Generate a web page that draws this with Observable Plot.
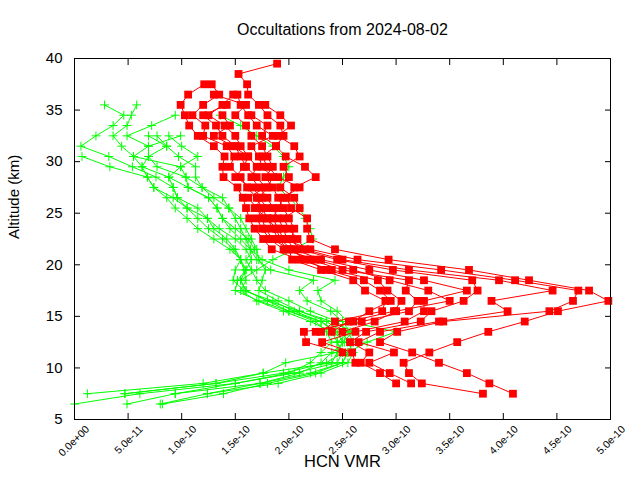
<!DOCTYPE html>
<html>
<head>
<meta charset="utf-8">
<script src="https://cdn.jsdelivr.net/npm/d3@7"></script>
<script src="https://cdn.jsdelivr.net/npm/@observablehq/plot@0.6"></script>
<style>
  html, body { margin: 0; padding: 0; background: #fff; }
  #chart { width: 640px; height: 480px; }
</style>
</head>
<body>
<div id="chart"></div>
<script>
// ---- Data (HCN VMR values in units of 1e-10) ----
const titleText = "Occultations from 2024-08-02";
const xLabel = "HCN VMR";
const yLabel = "Altitude (km)";

const xTicks = [0, 0.5, 1, 1.5, 2, 2.5, 3, 3.5, 4, 4.5, 5];
const xTickLabels = ["0.0e+00","5.0e-11","1.0e-10","1.5e-10","2.0e-10","2.5e-10","3.0e-10","3.5e-10","4.0e-10","4.5e-10","5.0e-10"];
const yTicks = [5, 10, 15, 20, 25, 30, 35, 40];

// red profiles: altitudes 39.5 .. 7.5 km
const redAltitudes = [39.5,38.5,37.5,36.5,35.5,34.5,33.5,32.5,31.5,30.5,29.5,28.5,27.5,26.5,25.5,24.5,23.5,22.5,21.5,20.5,19.5,18.5,17.5,16.5,15.5,14.5,13.5,12.5,11.5,10.5,9.5,8.5,7.5];
const redA = [1.89,1.53,1.61,1.62,1.72,1.80,1.92,1.95,1.88,1.97,2.15,2.25,2.05,1.98,2.02,2.17,2.17,2.20,2.43,2.93,3.68,4.24,4.80,4.98,4.51,4.20,3.86,3.57,3.31,3.07,3.12,3.24,3.81];
const redB = [null,null,1.21,1.06,0.99,1.03,1.07,1.15,1.30,1.40,1.38,1.39,1.52,1.57,1.60,1.63,1.68,1.76,1.84,2.10,2.40,2.83,2.92,3.05,2.98,2.56,2.40,null,null,null,null,null,null];
const redC = [null,null,1.28,1.35,1.20,1.10,1.22,1.20,1.42,1.49,1.45,1.55,1.61,1.70,1.75,1.80,1.85,1.90,1.99,2.20,2.50,3.12,3.09,3.20,3.12,2.68,2.14,2.16,2.50,null,null,null,null];
const redD = [null,null,null,1.48,1.38,1.25,1.40,1.50,1.55,1.62,1.70,1.65,1.72,1.80,1.85,1.90,1.95,1.98,2.05,2.30,2.75,3.26,3.66,3.26,3.26,3.08,2.62,2.31,2.59,2.62,null,null,null];
const redE = [null,null,null,1.30,1.60,1.50,1.60,1.65,1.75,1.80,1.85,1.78,1.85,1.90,1.95,2.00,2.05,2.02,2.10,2.45,2.97,3.71,3.76,3.63,3.33,3.23,2.72,2.57,2.75,2.67,2.85,3.00,null];
const redF = [null,null,null,null,1.78,1.92,2.02,1.90,2.05,2.10,1.95,2.00,1.92,2.05,2.10,1.95,2.00,2.08,2.15,2.50,3.12,3.96,4.46,3.89,4.04,3.40,2.85,2.65,2.98,2.75,2.94,3.14,null];
const redG = [null,null,null,null,1.42,1.20,1.32,1.38,1.50,1.55,1.60,1.70,1.78,1.62,1.70,1.75,1.78,1.85,2.00,2.03,2.30,2.60,2.71,2.90,2.87,2.43,2.30,null,null,null,null,null,null];
const redH = [null,null,null,null,null,1.65,1.80,1.75,1.88,1.75,1.80,1.90,2.10,1.95,1.90,1.85,1.90,1.95,2.20,2.64,3.42,4.11,4.70,4.65,4.43,3.44,3.01,2.85,3.15,3.40,3.66,3.87,4.09];
const redI = [null,null,null,1.52,1.55,1.62,1.70,1.85,1.65,1.72,1.75,1.85,1.80,1.72,1.80,1.70,1.75,1.82,1.95,2.25,2.60,2.94,3.30,3.50,3.00,2.80,2.50,null,null,null,null,null,null];
const redJ = [null,null,null,null,null,1.38,1.45,1.30,1.48,1.62,1.58,1.50,1.65,1.75,1.68,1.80,1.88,1.92,2.02,2.15,2.35,2.70,2.85,2.95,2.75,2.60,2.25,null,null,null,null,null,null];

// green profiles: altitudes 35.5 .. 6.5 km
const greenAltitudes = [35.5,34.5,33.5,32.5,31.5,30.5,29.5,28.5,27.5,26.5,25.5,24.5,23.5,22.5,21.5,20.5,19.5,18.5,17.5,16.5,15.5,14.5,13.5,12.5,11.5,10.5,9.5,8.5,7.5,6.5];
const green1 = [0.28,0.46,0.36,0.20,0.06,0.32,0.54,0.76,0.92,0.96,1.05,1.24,1.35,1.50,1.60,1.65,1.60,1.55,1.60,1.80,2.00,2.30,2.45,2.50,2.45,2.40,1.76,1.20,0.12,null];
const green2 = [0.58,0.53,0.49,0.36,0.44,0.55,0.63,0.88,1.06,1.25,1.33,1.38,1.45,1.55,1.64,1.70,1.83,2.23,2.10,2.17,2.39,2.50,2.57,2.45,2.50,2.45,2.05,1.50,0.61,0.00];
const green3 = [null,0.94,0.72,0.49,0.69,0.69,0.77,1.04,1.19,1.30,1.44,1.50,1.55,1.60,1.64,1.75,2.00,2.43,2.27,2.30,2.45,2.55,3.00,2.73,2.55,2.50,2.20,1.73,0.94,0.49];
const green4 = [null,null,null,0.69,0.86,0.97,1.13,1.13,1.19,1.38,1.44,1.55,1.60,1.65,1.70,1.72,1.78,1.75,1.72,1.90,2.10,2.35,2.50,2.55,2.60,2.55,2.30,1.90,1.24,0.80];
const green5 = [null,null,null,0.88,1.00,1.15,0.99,1.04,1.06,1.25,1.33,1.38,1.50,1.62,1.68,1.60,1.65,1.70,1.78,2.00,2.20,2.45,2.55,2.60,2.55,2.50,2.25,1.80,1.39,0.82];
const green6 = [null,null,null,null,null,0.07,0.33,0.68,0.74,0.86,0.94,1.05,1.15,1.30,1.45,1.55,1.58,1.60,1.55,1.70,1.95,2.20,2.40,2.45,2.50,2.35,1.95,1.32,0.47,null];
const green7 = [null,null,null,0.99,0.69,0.55,0.99,0.88,0.92,0.96,1.15,1.24,1.30,1.42,1.50,1.55,1.60,1.52,1.50,1.72,2.00,2.25,2.35,2.40,2.30,2.20,2.00,1.50,0.94,null];
const green8 = [null,1.36,1.55,1.70,1.85,1.95,2.00,1.95,1.90,2.00,2.10,2.15,2.20,2.22,2.05,1.85,1.70,1.55,1.60,1.80,2.10,2.40,2.60,2.50,2.45,1.97,1.76,1.32,0.47,null];
const green9 = [null,null,null,0.77,0.86,0.69,0.63,0.68,0.74,0.92,1.05,1.15,1.25,1.38,1.48,1.55,1.50,1.48,1.58,1.85,2.05,2.30,2.42,2.52,2.40,2.30,2.10,1.73,1.24,null];

const redProfiles = [redA, redB, redC, redD, redE, redF, redG, redH, redI, redJ];
const greenProfiles = [green1, green2, green3, green4, green5, green6, green7, green8, green9];

function toRows(profiles, alts) {
  return profiles.flatMap((p, i) => p.map((v, j) => ({id: i, alt: alts[j], v})).filter(d => d.v != null));
}
const redRows = toRows(redProfiles, redAltitudes);
const greenRows = toRows(greenProfiles, greenAltitudes);

const plusSymbol = {
  draw(ctx, size) {
    const h = Math.sqrt(size) * 0.62;
    ctx.moveTo(-h, 0); ctx.lineTo(h, 0);
    ctx.moveTo(0, -h); ctx.lineTo(0, h);
  }
};

const GREEN = "#00ff00", RED = "#ff0000";
const font = "'Liberation Sans', Arial, sans-serif";

const chart = Plot.plot({
  width: 640,
  height: 480,
  marginTop: 58,
  marginBottom: 61,
  marginLeft: 74,
  marginRight: 30,
  style: {fontFamily: font, fontSize: "15px", background: "#fff", color: "#000"},
  x: {domain: [0, 5]},
  y: {domain: [5, 40]},
  marks: [
    Plot.line(greenRows, {x: "v", y: "alt", z: "id", stroke: GREEN, strokeWidth: 1}),
    Plot.dot(greenRows, {x: "v", y: "alt", symbol: plusSymbol, r: 4, stroke: GREEN, fill: "none", strokeWidth: 1}),
    Plot.line(redRows, {x: "v", y: "alt", z: "id", stroke: RED, strokeWidth: 1}),
    Plot.dot(redRows, {x: "v", y: "alt", symbol: "square", r: 4.4, fill: RED, stroke: "none"}),
    Plot.frame({stroke: "#000", strokeWidth: 1}),
    Plot.axisY({ticks: yTicks, tickSize: -6, tickPadding: 18, label: null, fontSize: 15}),
    Plot.axisY({anchor: "right", ticks: yTicks, tickSize: -6, tickFormat: () => "", label: null}),
    Plot.axisX({ticks: xTicks, tickSize: -6, tickFormat: () => "", label: null}),
    Plot.axisX({anchor: "top", ticks: xTicks, tickSize: -6, tickFormat: () => "", label: null}),
    Plot.text(xTicks, {x: d => d, text: (d, i) => xTickLabels[i], frameAnchor: "bottom", rotate: -45, textAnchor: "end", lineAnchor: "middle", dx: 13, dy: 8, fontSize: 10.5}),
    Plot.text([titleText], {frameAnchor: "top", dy: -35, fontSize: 16}),
    Plot.text([xLabel], {frameAnchor: "bottom", dy: 47, fontSize: 16.5}),
    Plot.text([yLabel], {frameAnchor: "left", rotate: -90, dx: -60, fontSize: 15})
  ]
});
document.getElementById("chart").appendChild(chart);
</script>
</body>
</html>
